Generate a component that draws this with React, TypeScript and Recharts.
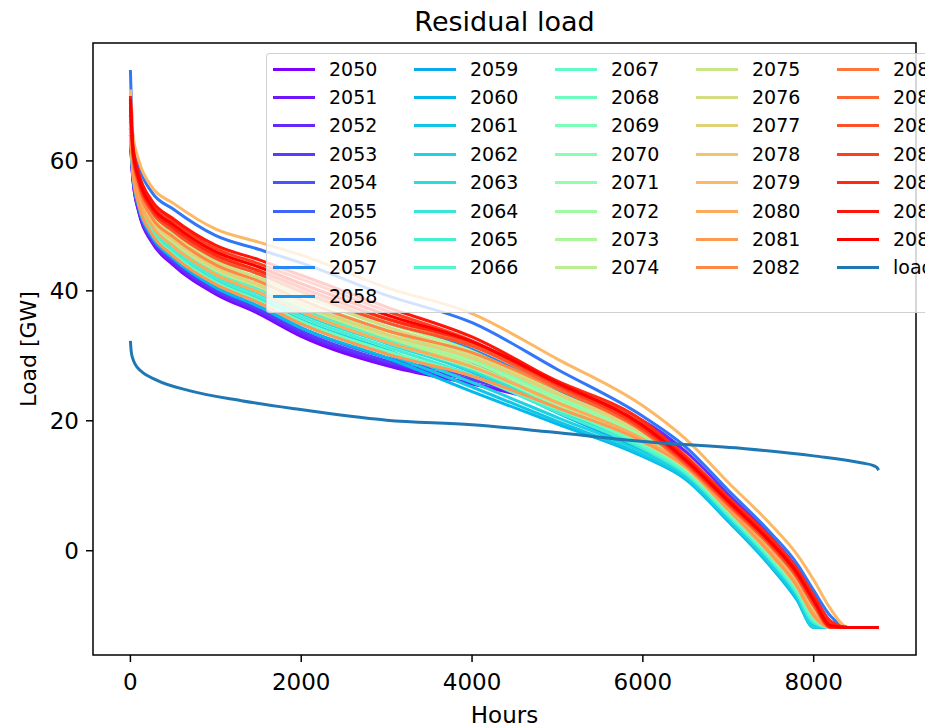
import React from 'react';
import { LineChart, Line, XAxis, YAxis, ReferenceArea, Legend } from 'recharts';

// Hour positions shared by all yearly duration curves
const HOURS = [0, 30, 100, 250, 500, 1000, 1500, 2000, 3000, 4000, 5000, 6000, 6500, 7000, 7500, 7800, 8000, 8200, 8400, 8760];

// Residual load (GW), sorted duration curves per scenario year
const y2050 = [63, 57.0, 52.0, 47.5, 44.0, 39.5, 36.5, 33.0, 28.5, 25.7, 22.8, 19.6, 15.0, 8.4, 1.7, -2.9, -7.2, -11.3, -11.8, -11.8];
const y2051 = [63.5, 57.1, 52.2, 47.7, 44.2, 39.7, 36.7, 33.3, 28.7, 25.7, 22.5, 18.4, 14.1, 7.5, 0.8, -4.0, -8.4, -11.8, -11.8, -11.8];
const y2052 = [64, 57.3, 52.3, 47.8, 44.4, 39.9, 36.9, 33.5, 29.0, 26.3, 23.5, 20.0, 15.3, 8.7, 2.1, -2.6, -6.8, -10.9, -11.8, -11.8];
const y2053 = [64, 57.4, 52.5, 48.0, 44.6, 40.1, 37.2, 33.8, 29.2, 26.3, 22.5, 18.0, 13.8, 7.2, 0.4, -4.4, -8.8, -11.8, -11.8, -11.8];
const y2054 = [65, 57.7, 52.8, 48.4, 45.0, 40.5, 37.6, 34.3, 29.7, 26.7, 22.5, 17.6, 13.5, 6.9, 0.1, -4.7, -9.2, -11.8, -11.8, -11.8];
const y2055 = [66, 59.1, 54.4, 50.1, 46.9, 42.5, 39.8, 36.8, 32.1, 28.8, 24.0, 18.8, 14.4, 7.8, 1.1, -3.7, -8.0, -11.8, -11.8, -11.8];
const y2056 = [74, 63.3, 59.2, 55.2, 52.6, 48.5, 46.4, 44.3, 39.3, 35.1, 27.9, 20.7, 16.0, 9.3, 2.7, -1.9, -6.1, -10.1, -11.8, -11.8];
const y2057 = [67, 60.9, 56.4, 52.2, 49.2, 45.0, 42.6, 39.9, 35.1, 31.0, 24.7, 18.4, 14.1, 7.5, 0.8, -4.0, -8.4, -11.8, -11.8, -11.8];
const y2058 = [66, 59.5, 54.8, 50.5, 47.3, 43.0, 40.4, 37.4, 32.7, 28.6, 22.7, 16.8, 12.9, 6.3, -0.6, -5.4, -10.0, -11.8, -11.8, -11.8];
const y2059 = [65, 59.1, 54.4, 50.1, 46.9, 42.5, 39.8, 36.8, 32.1, 27.5, 21.2, 15.3, 11.6, 5.1, -1.9, -6.8, -11.5, -11.8, -11.8, -11.8];
const y2060 = [64, 57.7, 52.8, 48.4, 45.0, 40.5, 37.6, 34.3, 29.7, 24.5, 19.5, 14.5, 11.0, 4.5, -2.5, -7.5, -11.8, -11.8, -11.8, -11.8];
const y2061 = [64.5, 58.1, 53.2, 48.8, 45.4, 41.0, 38.2, 34.9, 30.3, 25.2, 19.9, 14.7, 11.2, 4.7, -2.3, -7.3, -11.8, -11.8, -11.8, -11.8];
const y2062 = [65, 58.4, 53.6, 49.2, 45.9, 41.5, 38.7, 35.5, 30.9, 25.9, 20.5, 15.1, 11.5, 5.0, -2.0, -6.9, -11.7, -11.8, -11.8, -11.8];
const y2063 = [65.5, 59.0, 54.2, 49.9, 46.7, 42.3, 39.6, 36.5, 31.9, 27.6, 21.7, 16.1, 12.2, 5.7, -1.2, -6.1, -10.7, -11.8, -11.8, -11.8];
const y2064 = [65, 59.1, 54.4, 50.1, 46.9, 42.5, 39.8, 36.8, 32.1, 27.9, 22.1, 16.5, 12.6, 6.0, -0.9, -5.8, -10.4, -11.8, -11.8, -11.8];
const y2065 = [64.5, 58.7, 53.9, 49.5, 46.3, 41.9, 39.1, 36.0, 31.4, 27.0, 21.3, 15.7, 11.9, 5.4, -1.5, -6.5, -11.1, -11.8, -11.8, -11.8];
const y2066 = [66, 59.3, 54.6, 50.3, 47.1, 42.8, 40.1, 37.1, 32.5, 28.5, 22.7, 17.0, 13.0, 6.4, -0.4, -5.3, -9.8, -11.8, -11.8, -11.8];
const y2067 = [66.5, 59.8, 55.2, 50.9, 47.8, 43.5, 40.9, 38.0, 33.3, 28.5, 22.1, 16.1, 12.2, 5.7, -1.2, -6.1, -10.7, -11.8, -11.8, -11.8];
const y2068 = [64, 58.3, 53.4, 49.0, 45.7, 41.3, 38.5, 35.3, 30.7, 26.9, 21.8, 16.5, 12.6, 6.0, -0.9, -5.8, -10.4, -11.8, -11.8, -11.8];
const y2069 = [67, 60.2, 55.6, 51.3, 48.3, 44.0, 41.5, 38.6, 33.9, 29.5, 23.4, 17.2, 13.2, 6.6, -0.2, -5.1, -9.6, -11.8, -11.8, -11.8];
const y2070 = [65.5, 59.1, 54.4, 50.1, 46.9, 42.5, 39.8, 36.8, 32.1, 28.1, 22.5, 16.8, 12.9, 6.3, -0.6, -5.4, -10.0, -11.8, -11.8, -11.8];
const y2071 = [67, 60.5, 56.0, 51.8, 48.8, 44.5, 42.0, 39.3, 34.5, 30.1, 23.8, 17.6, 13.5, 6.9, 0.1, -4.7, -9.2, -11.8, -11.8, -11.8];
const y2072 = [66, 59.8, 55.2, 50.9, 47.8, 43.5, 40.9, 38.0, 33.3, 29.1, 23.2, 17.2, 13.2, 6.6, -0.2, -5.1, -9.6, -11.8, -11.8, -11.8];
const y2073 = [67.5, 60.9, 56.4, 52.2, 49.2, 45.0, 42.6, 39.9, 35.1, 30.7, 24.3, 18.0, 13.8, 7.2, 0.4, -4.4, -8.8, -11.8, -11.8, -11.8];
const y2074 = [66, 59.6, 55.0, 50.6, 47.5, 43.2, 40.6, 37.6, 32.9, 28.6, 22.6, 16.7, 12.7, 6.2, -0.7, -5.5, -10.1, -11.8, -11.8, -11.8];
const y2075 = [67, 60.2, 55.6, 51.3, 48.3, 44.0, 41.5, 38.6, 33.9, 30.1, 24.3, 18.4, 14.1, 7.5, 0.8, -4.0, -8.4, -11.8, -11.8, -11.8];
const y2076 = [67, 60.5, 56.0, 51.8, 48.8, 44.5, 42.0, 39.3, 34.5, 30.3, 24.2, 18.0, 13.8, 7.2, 0.4, -4.4, -8.8, -11.8, -11.8, -11.8];
const y2077 = [66.5, 59.8, 55.2, 50.9, 47.8, 43.5, 40.9, 38.0, 33.3, 29.7, 24.1, 18.4, 14.1, 7.5, 0.8, -4.0, -8.4, -11.8, -11.8, -11.8];
const y2078 = [68, 61.2, 56.8, 52.6, 49.7, 45.5, 43.1, 40.5, 35.7, 31.5, 25.2, 18.8, 14.4, 7.8, 1.1, -3.7, -8.0, -11.8, -11.8, -11.8];
const y2079 = [71, 64.0, 60.0, 56.0, 53.5, 49.5, 47.5, 45.5, 40.5, 36.5, 29.5, 22.3, 17.2, 10.5, 4.0, -0.5, -4.5, -9.0, -11.8, -11.8];
const y2080 = [66, 59.1, 54.4, 50.1, 46.9, 42.5, 39.8, 36.8, 32.1, 28.3, 22.8, 17.2, 13.2, 6.6, -0.2, -5.1, -9.6, -11.8, -11.8, -11.8];
const y2081 = [65, 58.1, 53.2, 48.8, 45.4, 41.0, 38.2, 34.9, 30.3, 26.9, 22.0, 16.8, 12.9, 6.3, -0.6, -5.4, -10.0, -11.8, -11.8, -11.8];
const y2082 = [67, 60.2, 55.6, 51.3, 48.3, 44.0, 41.5, 38.6, 33.9, 30.5, 24.9, 19.2, 14.7, 8.1, 1.4, -3.3, -7.6, -11.7, -11.8, -11.8];
const y2083 = [68.5, 61.2, 56.8, 52.6, 49.7, 45.5, 43.1, 40.5, 35.7, 31.7, 25.5, 19.2, 14.0, 7.6, 1.2, -3.4, -7.7, -11.7, -11.8, -11.8];
const y2084 = [69, 61.6, 57.2, 53.0, 50.2, 46.0, 43.7, 41.1, 36.3, 31.7, 25.0, 18.4, 13.3, 7.0, 0.6, -4.1, -8.5, -11.8, -11.8, -11.8];
const y2085 = [68, 60.9, 56.4, 52.2, 49.2, 45.0, 42.6, 39.9, 35.1, 31.5, 25.6, 19.6, 14.2, 7.9, 1.5, -3.0, -7.3, -11.3, -11.8, -11.8];
const y2086 = [69.5, 61.9, 57.6, 53.5, 50.7, 46.5, 44.2, 41.8, 36.9, 32.3, 25.5, 18.8, 13.6, 7.3, 0.9, -3.8, -8.1, -11.8, -11.8, -11.8];
const y2087 = [69, 61.2, 56.8, 52.6, 49.7, 45.5, 43.1, 40.5, 35.7, 32.1, 26.1, 20.0, 14.5, 8.2, 1.9, -2.7, -6.9, -10.9, -11.8, -11.8];
const y2088 = [70, 62.3, 58.0, 53.9, 51.1, 47.0, 44.8, 42.4, 37.5, 32.9, 26.0, 19.2, 13.9, 7.6, 1.2, -3.4, -7.7, -11.7, -11.8, -11.8];
const y2089 = [69.5, 61.6, 57.2, 53.0, 50.2, 46.0, 43.7, 41.1, 36.3, 32.2, 25.8, 19.3, 14.0, 7.7, 1.3, -3.3, -7.6, -11.5, -11.8, -11.8];

const YEAR_SERIES: [number, number[]][] = [
  [2050, y2050], [2051, y2051], [2052, y2052], [2053, y2053], [2054, y2054],
  [2055, y2055], [2056, y2056], [2057, y2057], [2058, y2058], [2059, y2059],
  [2060, y2060], [2061, y2061], [2062, y2062], [2063, y2063], [2064, y2064],
  [2065, y2065], [2066, y2066], [2067, y2067], [2068, y2068], [2069, y2069],
  [2070, y2070], [2071, y2071], [2072, y2072], [2073, y2073], [2074, y2074],
  [2075, y2075], [2076, y2076], [2077, y2077], [2078, y2078], [2079, y2079],
  [2080, y2080], [2081, y2081], [2082, y2082], [2083, y2083], [2084, y2084],
  [2085, y2085], [2086, y2086], [2087, y2087], [2088, y2088], [2089, y2089],
];

// Original (non-residual) load duration curve
const LOAD_HOURS = [0, 10, 30, 60, 120, 300, 700, 1300, 1900, 3000, 4000, 4900, 6000, 7200, 8000, 8570, 8700, 8740, 8760];
const LOAD_VALUES = [32.3, 30.6, 29.5, 28.6, 27.7, 26.3, 24.6, 23.1, 21.9, 20.1, 19.4, 18.3, 16.8, 15.7, 14.6, 13.5, 13.1, 12.8, 12.4];

const X_TICKS = [0, 2000, 4000, 6000, 8000];
const Y_TICKS = [0, 20, 40, 60];
const X_DOMAIN: [number, number] = [-438, 9198];
const Y_DOMAIN: [number, number] = [-16.05, 78.15];

const rows = HOURS.map((h, k) => {
  const row: Record<string, number> = { h };
  YEAR_SERIES.forEach(([yr, vals]) => {
    row[`y${yr}`] = vals[k];
  });
  return row;
});

const loadRows = LOAD_HOURS.map((h, k) => ({ h, load: LOAD_VALUES[k] }));

// matplotlib "rainbow" colormap
function rainbow(t: number): string {
  const clamp = (v: number) => Math.max(0, Math.min(1, v));
  const r = clamp(Math.abs(2 * t - 0.5));
  const g = clamp(Math.sin(Math.PI * t));
  const b = clamp(Math.cos((Math.PI * t) / 2));
  return `rgb(${Math.round(r * 255)},${Math.round(g * 255)},${Math.round(b * 255)})`;
}

const FONT = '"DejaVu Sans", Verdana, sans-serif';

function LegendBox(props: any) {
  const items: any[] = props.payload || [];
  const colPitch = 141;
  const rowPitch = 28.4;
  return (
    <div
      style={{
        position: 'relative',
        width: 720,
        height: 260,
        boxSizing: 'border-box',
        background: 'rgba(255,255,255,0.8)',
        border: '1px solid rgba(204,204,204,0.9)',
        borderRadius: 4,
        fontFamily: FONT,
      }}
    >
      {items.map((it, i) => {
        const col = i < 9 ? 0 : 1 + Math.floor((i - 9) / 8);
        const row = i < 9 ? i : (i - 9) % 8;
        const cy = 15 + row * rowPitch;
        return (
          <React.Fragment key={String(it.value)}>
            <div
              style={{
                position: 'absolute',
                left: 6 + col * colPitch,
                top: cy - 1.5,
                width: 42,
                height: 3,
                background: it.color,
              }}
            />
            <div
              style={{
                position: 'absolute',
                left: 62 + col * colPitch,
                top: cy - 9.5,
                fontSize: 19,
                lineHeight: '19px',
                color: '#000',
                whiteSpace: 'nowrap',
              }}
            >
              {it.value}
            </div>
          </React.Fragment>
        );
      })}
    </div>
  );
}

export default function App() {
  return (
    <div
      style={{
        position: 'absolute',
        left: 0,
        top: 0,
        width: 930,
        height: 728,
        background: '#fff',
        overflow: 'hidden',
        fontFamily: FONT,
      }}
    >
      <div style={{ position: 'absolute', left: 0, top: 0, width: 925, height: 728, overflow: 'hidden' }}>
        <div
          style={{
            position: 'absolute',
            left: 93,
            width: 823,
            top: 8,
            textAlign: 'center',
            fontSize: 27,
            lineHeight: '27px',
            color: '#000',
          }}
        >
          Residual load
        </div>
        <LineChart width={925} height={728} data={rows} margin={{ top: 43, right: 9, bottom: 0, left: 0 }}>
          <XAxis
            dataKey="h"
            type="number"
            domain={X_DOMAIN}
            ticks={X_TICKS}
            allowDataOverflow
            axisLine={false}
            tickLine={{ stroke: '#000', strokeWidth: 1.5 }}
            tickSize={7}
            tickMargin={12}
            tick={{ fill: '#000', fontSize: 23, fontFamily: FONT }}
            height={73}
            label={{ value: 'Hours', position: 'insideBottom', offset: 5, fill: '#000', fontSize: 23, fontFamily: FONT }}
          />
          <YAxis
            type="number"
            domain={Y_DOMAIN}
            ticks={Y_TICKS}
            allowDataOverflow
            axisLine={false}
            tickLine={{ stroke: '#000', strokeWidth: 1.5 }}
            tickSize={7}
            tickMargin={7}
            tick={{ fill: '#000', fontSize: 23, fontFamily: FONT }}
            width={93}
            label={{
              value: 'Load [GW]',
              angle: -90,
              position: 'insideLeft',
              offset: 28,
              fill: '#000',
              fontSize: 22,
              fontFamily: FONT,
              style: { textAnchor: 'middle' },
            }}
          />
          {YEAR_SERIES.map(([yr], i) => (
            <Line
              key={yr}
              dataKey={`y${yr}`}
              name={String(yr)}
              type="monotone"
              stroke={rainbow(i / (YEAR_SERIES.length - 1))}
              strokeWidth={3}
              dot={false}
              activeDot={false}
              isAnimationActive={false}
            />
          ))}
          <Line
            data={loadRows}
            dataKey="load"
            name="load"
            type="monotone"
            stroke="#1f77b4"
            strokeWidth={3}
            dot={false}
            activeDot={false}
            isAnimationActive={false}
          />
          <ReferenceArea
            x1={X_DOMAIN[0]}
            x2={X_DOMAIN[1]}
            y1={Y_DOMAIN[0]}
            y2={Y_DOMAIN[1]}
            stroke="#000"
            strokeWidth={1.5}
            fill="none"
            fillOpacity={0}
            ifOverflow="visible"
          />
          <Legend
            layout="vertical"
            align="center"
            verticalAlign="middle"
            wrapperStyle={{ left: 266, top: 53, width: 720, height: 260 }}
            content={(p: any) => <LegendBox {...p} />}
          />
        </LineChart>
      </div>
    </div>
  );
}
